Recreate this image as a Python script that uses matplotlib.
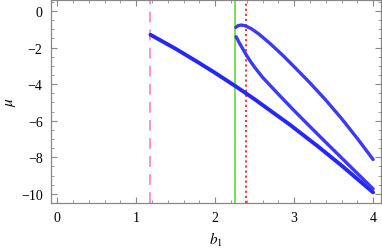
import matplotlib
matplotlib.use("Agg")
import matplotlib.pyplot as plt
from matplotlib.ticker import MultipleLocator

# Data
lower_b = [1.18, 1.5, 1.8, 2.0, 2.27, 2.5, 2.94, 3.3, 3.6, 4.0]
lower_mu = [-1.30, -2.07, -2.85, -3.39, -4.15, -4.83, -6.20, -7.40, -8.45, -9.92]

upper_b = [2.26, 2.29, 2.33, 2.38, 2.45, 2.55, 2.7, 2.85, 3.0, 3.2, 3.4, 3.6, 3.8, 4.0]
upper_mu = [-0.90, -0.80, -0.77, -0.81, -0.95, -1.25, -1.80, -2.40, -3.05, -3.93, -4.87, -5.88, -6.97, -8.12]

middle_b = [2.265, 2.30, 2.35, 2.40, 2.45, 2.50, 2.6, 2.8, 3.0, 3.2, 3.4, 3.6, 3.8, 4.0]
middle_mu = [-1.41, -1.70, -2.08, -2.45, -2.78, -3.08, -3.63, -4.55, -5.45, -6.32, -7.18, -8.03, -8.88, -9.73]

vline_pink = 1.17
vline_green = 2.255
vline_red = 2.39

plt.rcParams['font.family'] = ['Liberation Serif', 'DejaVu Serif']
plt.rcParams['mathtext.fontset'] = 'stix'

fig = plt.figure(figsize=(3.82, 2.51), dpi=100)
ax = fig.add_axes([51/382, (251-204)/251, (381-51)/382, (204-1)/251])

blue = '#2626f5'
ax.plot(lower_b, lower_mu, color=blue, lw=2.8, solid_capstyle='round', solid_joinstyle='round', zorder=3)
ax.plot(upper_b, upper_mu, color='#3a3af5', lw=2.4, solid_capstyle='round', solid_joinstyle='round', zorder=3)
ax.plot(middle_b, middle_mu, color='#3a3af5', lw=2.4, solid_capstyle='round', solid_joinstyle='round', zorder=3)

ax.axvline(vline_pink, color='#ff88cc', lw=1.3, dashes=(6, 4), zorder=2)
ax.axvline(vline_green, color='#77e055', lw=1.4, zorder=2)
ax.axvline(vline_red, color='#ff2020', lw=1.3, dashes=(1.2, 1.6), zorder=2)

ax.set_xlim(-0.08, 4.1)
ax.set_ylim(-10.5, 0.6)

ax.xaxis.set_major_locator(MultipleLocator(1))
ax.xaxis.set_minor_locator(MultipleLocator(0.2))
ax.yaxis.set_major_locator(MultipleLocator(2))
ax.yaxis.set_minor_locator(MultipleLocator(0.5))

gray = '#888888'
for s in ax.spines.values():
    s.set_color(gray)
    s.set_linewidth(0.9)
ax.tick_params(which='both', direction='in', top=True, right=True, color=gray,
               labelsize=10, labelcolor='black')
ax.tick_params(which='major', length=4, width=0.8, pad=6)
ax.tick_params(which='minor', length=2, width=0.6)

ax.set_xlabel(r'$b_1$', fontsize=11, labelpad=4)
ax.set_ylabel(r'$\mu$', fontsize=11, labelpad=2)

fig.savefig('out.png', dpi=100)
